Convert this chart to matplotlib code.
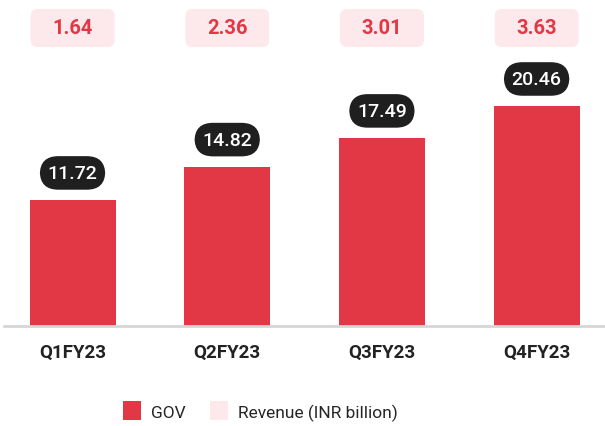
import matplotlib
matplotlib.use("Agg")
import matplotlib.pyplot as plt
from matplotlib.patches import FancyBboxPatch, Patch

categories = ["Q1FY23", "Q2FY23", "Q3FY23", "Q4FY23"]
gov = [11.72, 14.82, 17.49, 20.46]
revenue = [1.64, 2.36, 3.01, 3.63]

RED = "#e23744"
PINK = "#fde9ec"
DARK = "#1f1f1f"

plt.rcParams['font.family'] = ['Roboto', 'DejaVu Sans']

fig = plt.figure(figsize=(6.05, 4.27), dpi=100)
ax = fig.add_axes([4/605, 100/427, 601/605, 327/427])
xlim = (-0.443, 3.442)
ylim = (0, 327/10.75)
ax.set_xlim(*xlim)
ax.set_ylim(*ylim)

x = list(range(len(categories)))
ax.bar(x, gov, width=0.556, color=RED, zorder=2)

for s in ["top", "right", "left"]:
    ax.spines[s].set_visible(False)
ax.spines["bottom"].set_color("#d6d6d6")
ax.spines["bottom"].set_linewidth(2)
ax.set_yticks([])
ax.set_xticks(x)
ax.set_xticklabels(categories, fontsize=13.5, fontweight="bold", color="#222222")
ax.tick_params(axis="x", length=0, pad=12)

# GOV value pills
for xi, v in zip(x, gov):
    ax.annotate(f"{v:.2f}", xy=(xi, v), xytext=(0, 19.5), textcoords="offset points",
                ha="center", va="center", fontsize=14, fontweight="medium", color="white",
                bbox=dict(boxstyle="round,pad=0.4,rounding_size=0.95", fc=DARK, ec="none"),
                zorder=4)

# Revenue boxes at top
xpx = (xlim[1] - xlim[0]) / 601.0
ypx = (ylim[1] - ylim[0]) / 327.0
box_w = 84 * xpx
box_h = 38 * ypx
yc = (327 - 29) * ypx
r = 7 * xpx
for xi, rv in zip(x, revenue):
    p = FancyBboxPatch((xi - box_w/2, yc - box_h/2), box_w, box_h,
                       boxstyle=f"round,pad=0,rounding_size={r}",
                       mutation_aspect=ypx/xpx, fc=PINK, ec="none", zorder=3, clip_on=False)
    ax.add_patch(p)
    ax.text(xi, yc, f"{rv:.2f}", ha="center", va="center", fontsize=14.5,
            fontweight="bold", color=RED, zorder=4)

handles = [Patch(facecolor=RED, edgecolor="none", label="GOV"),
           Patch(facecolor=PINK, edgecolor="none", label="Revenue (INR billion)")]
fig.legend(handles=handles, loc="center", bbox_to_anchor=(0.43, 1 - 412/427), ncol=2,
           frameon=False, handlelength=1.05, handleheight=1.3,
           handletextpad=0.55, columnspacing=1.4, labelcolor="#262626",
           prop={"family": "Roboto", "weight": "normal", "size": 12.5})

fig.savefig("out.png", dpi=100)
